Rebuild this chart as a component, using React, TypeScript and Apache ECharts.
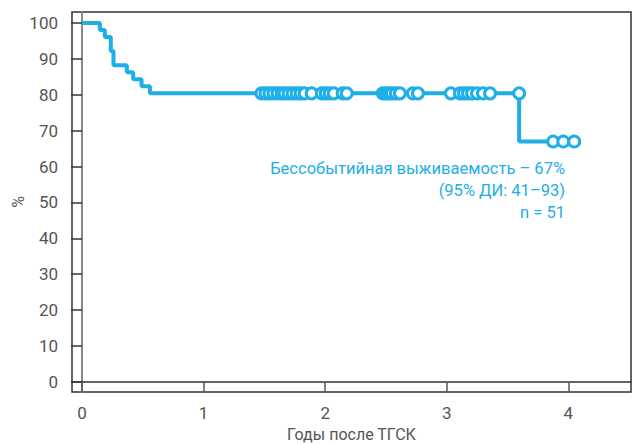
import React, { useEffect, useRef } from "react";
import * as echarts from "echarts";

const eventTimes = [0, 0.147, 0.188, 0.237, 0.259, 0.369, 0.421, 0.49, 0.559, 3.595, 4.048];
const survival = [100, 98.04, 96.08, 92.16, 88.24, 86.27, 84.31, 82.35, 80.39, 66.99, 66.99];

const censorLevel1 = 80.39;
const censorTimes1 = [
  1.476, 1.509, 1.542, 1.575, 1.608, 1.641, 1.666, 1.699, 1.732, 1.765, 1.798, 1.831, 1.889,
  1.972, 2.005, 2.037, 2.07, 2.144, 2.177,
  2.474, 2.499, 2.524, 2.548, 2.581, 2.614, 2.721, 2.763,
  3.034, 3.109, 3.142, 3.175, 3.208, 3.249, 3.298, 3.356,
  3.595,
];
const censorLevel2 = 66.99;
const censorTimes2 = [3.875, 3.958, 4.048];

const yTicks = [0, 10, 20, 30, 40, 50, 60, 70, 80, 90, 100];
const xTicks = [0, 1, 2, 3, 4];

const annotation = ["Бессобытийная выживаемость – 67%", "(95% ДИ: 41–93)", "n = 51"];

const BLUE = "#1eaee8";
const GRAY = "#555";
const FONT = "Roboto, 'Noto Sans', sans-serif";

export default function App() {
  const ref = useRef<HTMLDivElement>(null);
  useEffect(() => {
    if (!ref.current) return;
    const chart = echarts.init(ref.current, undefined, { renderer: "svg" });
    const stepData = eventTimes.map((t, i) => [t, survival[i]]);
    const censorData = [
      ...censorTimes1.map((t) => [t, censorLevel1]),
      ...censorTimes2.map((t) => [t, censorLevel2]),
    ];
    chart.setOption({
      animation: false,
      textStyle: { fontFamily: FONT },
      grid: {
        left: 72,
        top: 12,
        right: 2,
        bottom: 52,
        outerBoundsMode: "none",
        containLabel: false,
        show: true,
        borderColor: "#333",
        borderWidth: 1.5,
      },
      xAxis: {
        type: "value",
        min: -0.082,
        max: 4.515,
        name: "Годы после ТГСК",
        nameLocation: "middle",
        nameGap: 34,
        nameTextStyle: { color: GRAY, fontSize: 16, fontFamily: FONT },
        splitLine: { show: false },
        axisLine: { show: true, lineStyle: { color: "#333", width: 1.5 } },
        axisTick: { show: true, length: 10, customValues: xTicks, lineStyle: { color: GRAY, width: 1.5 } },
        axisLabel: { customValues: xTicks, color: GRAY, fontSize: 17, margin: 12, fontFamily: FONT },
      },
      yAxis: {
        type: "value",
        min: -2.8,
        max: 103.05,
        name: "%",
        nameLocation: "middle",
        nameGap: 46,
        nameMoveOverlap: false,
        nameRotate: 90,
        nameTextStyle: { color: GRAY, fontSize: 16, fontFamily: FONT },
        splitLine: { show: false },
        axisLine: { show: true, lineStyle: { color: "#888", width: 2 } },
        axisTick: { show: true, length: 11, customValues: yTicks, lineStyle: { color: "#333", width: 1.5 } },
        axisLabel: { customValues: yTicks, color: GRAY, fontSize: 17, margin: 14, fontFamily: FONT },
      },
      series: [
        {
          type: "line",
          step: "end",
          data: stepData,
          symbol: "none",
          lineStyle: { color: BLUE, width: 4 },
          z: 2,
        },
        {
          type: "scatter",
          data: censorData,
          symbol: "circle",
          symbolSize: 11,
          itemStyle: { color: "#fff", borderColor: BLUE, borderWidth: 3, opacity: 1 },
          z: 3,
        },
      ],
      graphic: annotation.map((txt, i) => ({
        type: "text",
        right: 633 - 565,
        top: 160 + i * 22,
        style: {
          text: txt,
          fill: BLUE,
          fontSize: 16.5,
          fontFamily: FONT,
          textAlign: "right",
        },
      })),
    });
    return () => chart.dispose();
  }, []);
  return <div ref={ref} style={{ width: 633, height: 444, position: "absolute", left: 0, top: 0 }} />;
}
